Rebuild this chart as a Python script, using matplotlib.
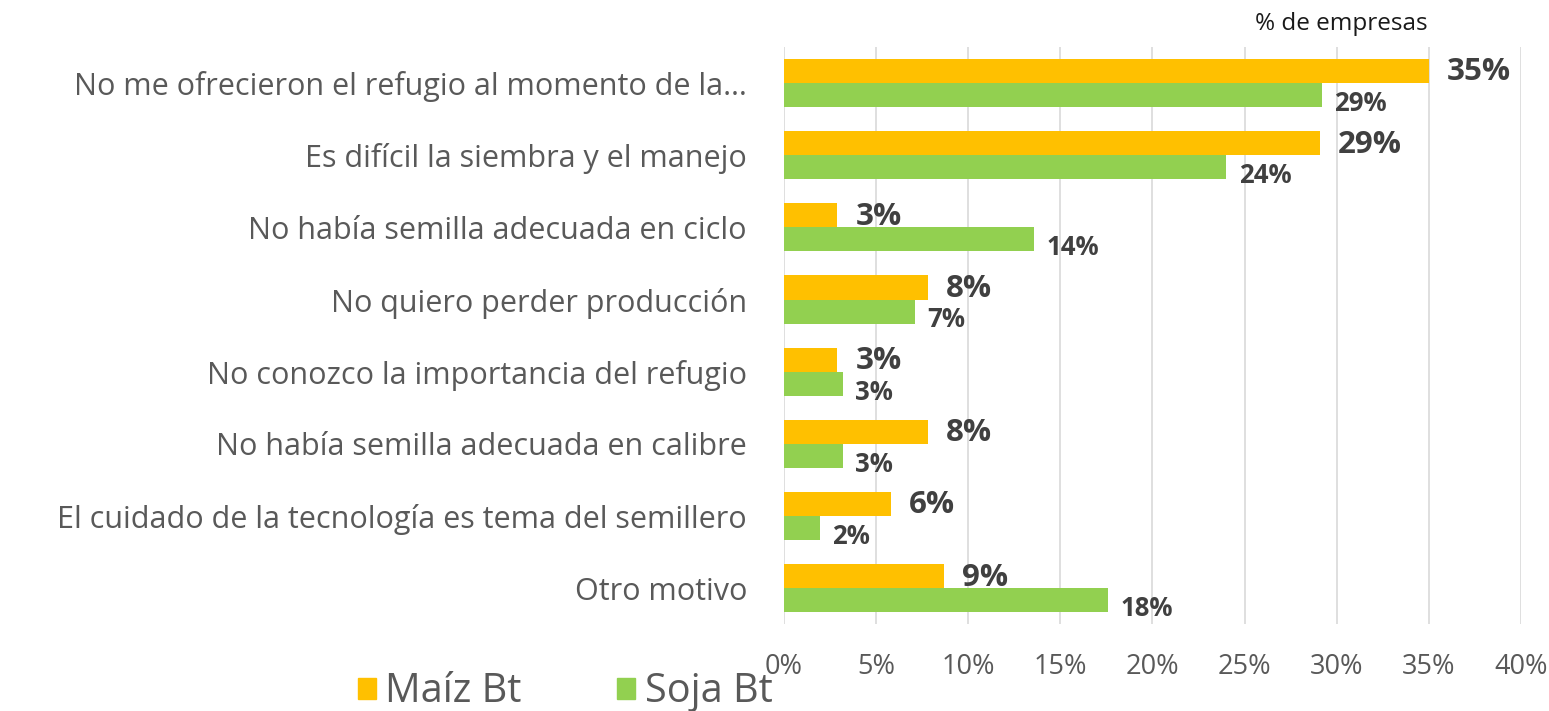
import matplotlib
matplotlib.use("Agg")
import matplotlib.pyplot as plt
import numpy as np

categories = [
    "No me ofrecieron el refugio al momento de la…",
    "Es difícil la siembra y el manejo",
    "No había semilla adecuada en ciclo",
    "No quiero perder producción",
    "No conozco la importancia del refugio",
    "No había semilla adecuada en calibre",
    "El cuidado de la tecnología es tema del semillero",
    "Otro motivo",
]
maiz = [35.0, 29.1, 2.9, 7.8, 2.9, 7.8, 5.8, 8.7]
soja = [29.2, 24.0, 13.6, 7.1, 3.2, 3.2, 1.95, 17.6]
series_names = ["Maíz Bt", "Soja Bt"]
xticks = [0, 5, 10, 15, 20, 25, 30, 35, 40]

ORANGE = "#FFC000"
GREEN = "#92D050"
TXT = "#595959"
LBL = "#404040"

plt.rcParams['font.family'] = ['Open Sans', 'DejaVu Sans']

fig = plt.figure(figsize=(15.49, 7.11), dpi=100)
ax = fig.add_axes([0.506, 0.122, 0.476, 0.812])

y = np.arange(len(categories))
h = 0.333
b1 = ax.barh(y - h / 2, maiz, height=h, color=ORANGE, zorder=3)
b2 = ax.barh(y + h / 2, soja, height=h, color=GREEN, zorder=3)

for rect, v in zip(b1, maiz):
    ax.annotate(f"{v:.0f}%", (rect.get_width(), rect.get_y() + rect.get_height() / 2),
                xytext=(13, -1), textcoords="offset points", va="center", ha="left",
                fontsize=22.5, fontweight="bold", color=LBL)
for rect, v in zip(b2, soja):
    ax.annotate(f"{v:.0f}%", (rect.get_width(), rect.get_y() + rect.get_height() / 2),
                xytext=(9, -6), textcoords="offset points", va="center", ha="left",
                fontsize=18.5, fontweight="bold", color=LBL)

ax.set_xlim(0, 40)
ax.set_ylim(len(categories) - 0.5, -0.5)
ax.set_xticks(xticks)
ax.set_xticklabels([f"{t}%" for t in xticks], fontsize=19.5, color=TXT)
ax.set_yticks(y)
ax.set_yticklabels(categories, fontsize=22, color=TXT)
ax.tick_params(axis="both", length=0)
ax.tick_params(axis="y", pad=26.5)
ax.tick_params(axis="x", pad=21)
ax.grid(axis="x", color="#D9D9D9", linewidth=1.2, zorder=0)
for s in ax.spines.values():
    s.set_visible(False)

fig.text(1428 / 1549, 1 - 24 / 711, "% de empresas", ha="right", va="center",
         fontsize=17.5, color="#1a1a1a")

handles = [plt.Rectangle((0, 0), 1, 1, color=ORANGE), plt.Rectangle((0, 0), 1, 1, color=GREEN)]
fig.legend(handles, series_names, loc="center", bbox_to_anchor=(565 / 1549, 1 - 692 / 711),
           ncol=2, frameon=False, fontsize=28.5, labelcolor=TXT, handlelength=0.45,
           handleheight=0.45, handletextpad=0.25, columnspacing=2.4,
           borderpad=0, borderaxespad=0)

fig.savefig("out.png", dpi=100)
